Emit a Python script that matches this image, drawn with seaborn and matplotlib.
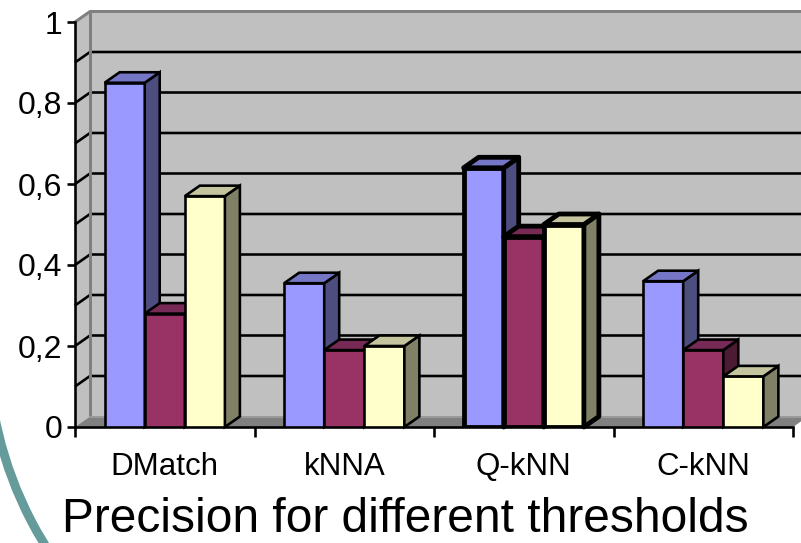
import matplotlib
matplotlib.use("Agg")
import matplotlib.pyplot as plt
import pandas as pd
import seaborn as sns
from matplotlib.patches import Polygon, Arc

# ---- data -------------------------------------------------------------
categories = ["DMatch", "kNNA", "Q-kNN", "C-kNN"]
series_names = ["T1", "T2", "T3"]
precision_t1 = [0.85, 0.355, 0.64, 0.36]
precision_t2 = [0.28, 0.19, 0.47, 0.19]
precision_t3 = [0.57, 0.20, 0.50, 0.125]
y_ticks = [0, 0.2, 0.4, 0.6, 0.8, 1.0]
y_tick_labels = ["0", "0,2", "0,4", "0,6", "0,8", "1"]
title_text = "Precision for different thresholds"

# ---- style ------------------------------------------------------------
front_colors = ["#9999FF", "#993366", "#FFFFCC"]
top_colors = ["#7676C6", "#762A55", "#C4C49E"]
side_colors = ["#4D4D80", "#4D1A33", "#808066"]
wall_color = "#C0C0C0"
floor_color = "#808080"
edge_color = "#808080"

sns.set_style("white")
plt.rcParams["font.family"] = ["Liberation Sans", "DejaVu Sans"]

W, H, DPI = 801, 543, 100
px = 72 / DPI  # points per pixel
fig = plt.figure(figsize=(W / DPI, H / DPI), dpi=DPI)
fig.patch.set_facecolor("white")

# decorative teal arc in the lower-left corner
arc = Arc((371.7, H - 343.4), 2 * 384, 2 * 384, theta1=180, theta2=235,
          transform=None, edgecolor="#669B9B", linewidth=9 * px, zorder=0)
fig.patches.append(arc)

# plot area (front plane) in pixels
x_left, x_right, y_bottom, y_top = 75, 793, 427, 22
ax = fig.add_axes([x_left / W, 1 - y_bottom / H,
                   (x_right - x_left) / W, (y_bottom - y_top) / H])
ax.set_facecolor("none")

df = pd.DataFrame({
    "category": categories * 3,
    "series": [s for s in series_names for _ in categories],
    "value": precision_t1 + precision_t2 + precision_t3,
})

line_w = 2.6 * px
sns.barplot(data=df, x="category", y="value", hue="series",
            palette=front_colors, saturation=1, width=0.67,
            errorbar=None, edgecolor="black", linewidth=line_w,
            legend=False, ax=ax)

# remember each bar with its series index before adding other patches
bar_info = []
for s_idx, cont in enumerate(ax.containers):
    for c_idx, bar in enumerate(cont.patches):
        bar_info.append((bar, s_idx, c_idx))
bar_info.sort(key=lambda t: t[0].get_x())

ax.set_xlim(-0.5, 3.5)
ax.set_ylim(0, 1)

# depth offset of the 3-D box, converted to data units
ppx = (x_right - x_left) / 4.0
ppy = (y_bottom - y_top) / 1.0
ddx, ddy = 15 / ppx, 10.5 / ppy

# back wall, left wall and floor
x0, x1 = -0.5, 3.5
ax.add_patch(Polygon([(x0 + ddx, ddy), (x1 + ddx, ddy), (x1 + ddx, 1 + ddy),
                      (x0 + ddx, 1 + ddy)], closed=True, facecolor=wall_color,
                     edgecolor="none", zorder=0.2, clip_on=False))
ax.add_patch(Polygon([(x0, 0), (x0, 1), (x0 + ddx, 1 + ddy), (x0 + ddx, ddy)],
                     closed=True, facecolor=wall_color, edgecolor="none",
                     zorder=0.2, clip_on=False))
for g in [i / 10 for i in range(1, 10)]:
    ax.plot([x0, x0 + ddx, x1 + ddx], [g, g + ddy, g + ddy], color="black",
            lw=line_w, zorder=0.4, clip_on=False, solid_capstyle="butt")
ax.plot([x0, x0 + ddx, x1 + ddx], [1, 1 + ddy, 1 + ddy], color=edge_color,
        lw=3 * px, zorder=0.4, clip_on=False, solid_capstyle="butt")
ax.plot([x0 + ddx, x0 + ddx], [ddy, 1 + ddy], color=edge_color,
        lw=3 * px, zorder=0.45, clip_on=False)
ax.add_patch(Polygon([(x0, 0), (x1, 0), (x1 + ddx, ddy), (x0 + ddx, ddy)],
                     closed=True, facecolor=floor_color, edgecolor="none",
                     zorder=0.5, clip_on=False))
ax.plot([x0 + ddx, x1 + ddx], [ddy, ddy], color="#9A9A9A", lw=2 * px,
        zorder=0.55, clip_on=False)

# 3-D faces for each bar, stacked left to right
for rank, (b, s, cat) in enumerate(bar_info):
    xb, wb, hb = b.get_x(), b.get_width(), b.get_height()
    bold = categories[cat] == "Q-kNN"
    lw = 4.8 * px if bold else line_w
    js = "round" if bold else "miter"
    z = 3 + rank * 0.1
    b.set_zorder(z)
    b.set_linewidth(lw)
    b.set_joinstyle(js)
    side = Polygon([(xb + wb, 0), (xb + wb, hb), (xb + wb + ddx, hb + ddy),
                    (xb + wb + ddx, ddy)], closed=True,
                   facecolor=side_colors[s], edgecolor="black", lw=lw,
                   joinstyle=js, zorder=z + 0.03, clip_on=False)
    top = Polygon([(xb, hb), (xb + wb, hb), (xb + wb + ddx, hb + ddy),
                   (xb + ddx, hb + ddy)], closed=True,
                  facecolor=top_colors[s], edgecolor="black", lw=lw,
                  joinstyle=js, zorder=z + 0.06, clip_on=False)
    ax.add_patch(side)
    ax.add_patch(top)

# axes, ticks and labels
for name, sp in ax.spines.items():
    sp.set_visible(name in ("left", "bottom"))
    sp.set_color("black")
    sp.set_linewidth(line_w)
    sp.set_zorder(2)

ax.set_yticks(y_ticks)
ax.set_yticklabels(y_tick_labels)
ax.tick_params(axis="y", direction="out", length=8 * px, width=line_w,
               pad=5 * px, labelsize=23, colors="black", left=True)
ax.set_xticks(range(len(categories)))
ax.set_xticklabels(categories)
ax.set_xticks([-0.5, 0.5, 1.5, 2.5, 3.5], minor=True)
ax.tick_params(axis="x", which="major", length=0, pad=25 * px, labelsize=22.5,
               colors="black")
ax.tick_params(axis="x", which="minor", direction="out", length=10 * px,
               width=line_w, colors="black", bottom=True)
ax.set_xlabel("")
ax.set_ylabel("")
ax.grid(False)

fig.text(405 / W, 1 - 532 / H, title_text, ha="center", va="baseline",
         fontsize=34.5, color="black")

fig.savefig("out.png", dpi=DPI, facecolor="white")
